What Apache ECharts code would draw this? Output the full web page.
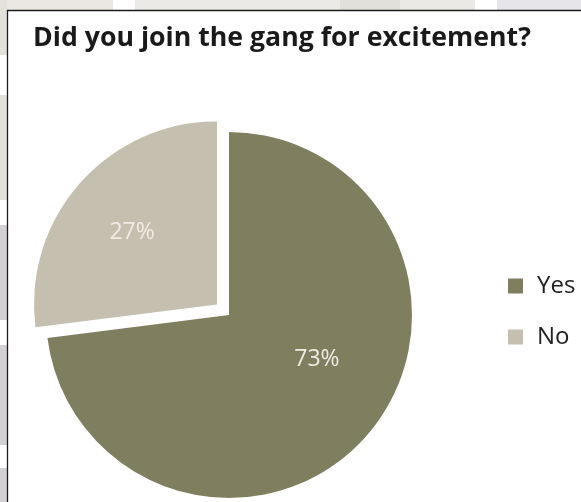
<!DOCTYPE html>
<html>
<head>
<meta charset="utf-8">
<script src="https://cdn.jsdelivr.net/npm/echarts@6/dist/echarts.min.js"></script>
<style>
  html, body { margin: 0; padding: 0; background: #ffffff; }
  #chart { width: 581px; height: 502px; }
</style>
</head>
<body>
<div id="chart"></div>
<script>
// Survey answers
const titleText = 'Did you join the gang for excitement?';
const categories = ['Yes', 'No'];
const shares = [73, 27];
const sliceColors = ['#7f7f60', '#c4bfae'];
const explodedCategory = 'No';

// Shade bands of the slide behind the chart frame
const topBands = [
  { x: 0, w: 113, c: '#ebe8e3' },
  { x: 135, w: 205, c: '#eceae6' },
  { x: 340, w: 60, c: '#e2e0da' },
  { x: 400, w: 75, c: '#ebe9e5' },
  { x: 497, w: 84, c: '#e6e6ea' }
];
const leftBands = [
  { y: 0, h: 55, c: '#e4e1da' },
  { y: 95, h: 105, c: '#e3e0d9' },
  { y: 225, h: 95, c: '#d2d0d4' },
  { y: 345, h: 100, c: '#d2d0d4' },
  { y: 468, h: 34, c: '#d2d0d4' }
];

// Nudges so the percentages sit where the original labels do
const labelNudge = { Yes: [17, -18], No: [-14, -9] };

const chart = echarts.init(document.getElementById('chart'), null, { renderer: 'canvas' });

const graphics = [];
topBands.forEach(b => graphics.push({
  type: 'rect', silent: true, z: -10,
  shape: { x: b.x, y: 0, width: b.w, height: 11 },
  style: { fill: b.c }
}));
leftBands.forEach(b => graphics.push({
  type: 'rect', silent: true, z: -10,
  shape: { x: 0, y: b.y, width: 7, height: b.h },
  style: { fill: b.c }
}));
graphics.push({
  type: 'rect', silent: true, z: -5,
  shape: { x: 7.5, y: 10.5, width: 600, height: 520 },
  style: { fill: '#ffffff', stroke: '#1c1c1c', lineWidth: 1.3 }
});

chart.setOption({
  animation: false,
  backgroundColor: '#ffffff',
  graphic: graphics,
  title: {
    text: titleText,
    left: 33,
    top: 25,
    padding: 0,
    textStyle: {
      fontFamily: 'Open Sans',
      fontWeight: 'bold',
      fontSize: 26.7,
      color: '#1a1a1a'
    }
  },
  legend: {
    orient: 'vertical',
    left: 503,
    top: 268,
    itemWidth: 15,
    itemHeight: 15,
    itemGap: 25,
    selectedMode: false,
    icon: 'rect',
    data: categories,
    textStyle: {
      fontFamily: 'Open Sans',
      fontSize: 24,
      color: '#222222',
      lineHeight: 26,
      padding: [0, 0, 0, 9]
    }
  },
  series: [{
    type: 'pie',
    center: [229, 315],
    radius: 183,
    startAngle: 90,
    clockwise: true,
    avoidLabelOverlap: false,
    selectedMode: 'single',
    selectedOffset: 16,
    silent: true,
    emphasis: { disabled: true },
    label: {
      show: true,
      position: 'inside',
      formatter: '{c}%',
      fontFamily: 'Open Sans',
      fontSize: 23,
      color: '#efece4'
    },
    labelLine: { show: false },
    labelLayout: function (params) {
      const n = labelNudge[categories[params.dataIndex]] || [0, 0];
      return { dx: n[0], dy: n[1] };
    },
    itemStyle: { borderWidth: 0 },
    data: categories.map((name, i) => ({
      name: name,
      value: shares[i],
      selected: name === explodedCategory,
      itemStyle: { color: sliceColors[i] }
    }))
  }]
});
</script>
</body>
</html>
